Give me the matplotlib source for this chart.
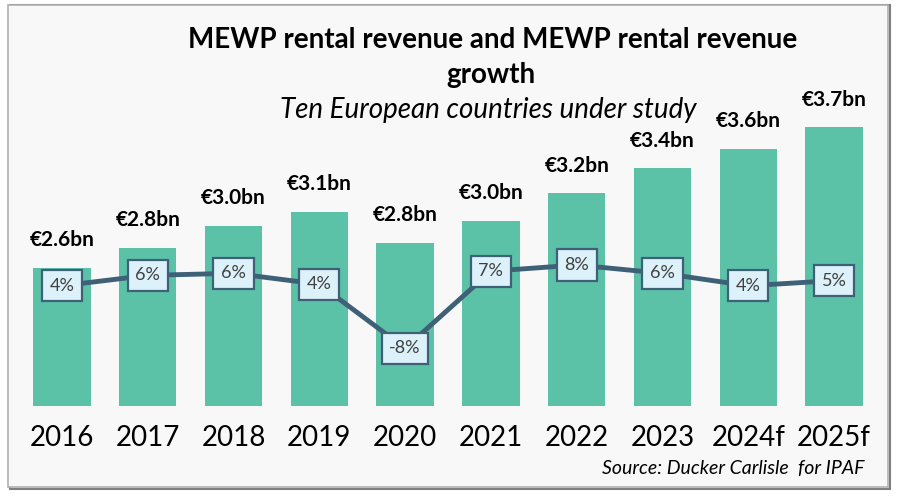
import matplotlib
matplotlib.use('Agg')
import matplotlib.pyplot as plt
from matplotlib.patches import Rectangle

# Dane
years = ['2016', '2017', '2018', '2019', '2020', '2021', '2022', '2023', '2024f', '2025f']
revenue = [2.60, 2.76, 2.94, 3.05, 2.80, 2.98, 3.20, 3.40, 3.56, 3.73]
revenue_labels = ['€2.6bn', '€2.8bn', '€3.0bn', '€3.1bn', '€2.8bn', '€3.0bn', '€3.2bn', '€3.4bn', '€3.6bn', '€3.7bn']
growth = [4.0, 6.0, 6.4, 4.3, -8.0, 6.8, 8.0, 6.4, 4.0, 5.0]

plt.rcParams['font.family'] = ['Lato', 'DejaVu Sans']

fig = plt.figure(figsize=(9, 5.04), dpi=100)
fig.patch.set_facecolor('white')

# Ramka wykresu
fig.patches.append(Rectangle((10 / 900, 15 / 504), 880 / 900, 484 / 504, transform=fig.transFigure,
                             facecolor='none', edgecolor='#7f7f7f', lw=1.5, zorder=-2))
fig.patches.append(Rectangle((8 / 900, 17 / 504), 880 / 900, 482 / 504, transform=fig.transFigure,
                             facecolor='#f8f8f8', edgecolor='#b0b0b0', lw=1.2, zorder=-1))

ax = fig.add_axes([19 / 900, 98 / 504, 858 / 900, 306 / 504])
ax.patch.set_alpha(0)
x = range(len(years))
ax.bar(x, revenue, width=0.67, color='#5bc2a8', zorder=1)
ax.set_ylim(1.49, 3.95)
ax.set_xlim(-0.5, 9.5)
for i, v in enumerate(revenue):
    ax.annotate(revenue_labels[i], (i, v), xytext=(0, 20), textcoords='offset points',
                ha='center', va='center', fontsize=15, fontweight='bold', color='black')
ax.set_xticks(list(x))
ax.set_xticklabels(years, fontsize=20, color='black')
ax.tick_params(axis='x', length=0, pad=14)
ax.set_yticks([])
for s in ax.spines.values():
    s.set_visible(False)

ax2 = ax.twinx()
ax2.plot(x, growth, color='#3f6177', lw=3.5, zorder=3, solid_capstyle='round')
ax2.set_ylim(-19.1, 39.7)
ax2.set_yticks([])
for s in ax2.spines.values():
    s.set_visible(False)
for i, g in enumerate(growth):
    ax2.text(i, g, f'{g:.0f}%', ha='center', va='center', fontsize=13, color='#404040', zorder=4,
             bbox=dict(boxstyle='square,pad=0.42', facecolor='#dcf1fa', edgecolor='#3f6177', lw=1.6))

fig.text(493 / 900, 1 - 40 / 504, 'MEWP rental revenue and MEWP rental revenue', ha='center', va='center',
         fontsize=20, fontweight='bold')
fig.text(491 / 900, 1 - 75 / 504, 'growth', ha='center', va='center', fontsize=20, fontweight='bold')
fig.text(488 / 900, 1 - 110 / 504, 'Ten European countries under study', ha='center', va='center',
         fontsize=20, fontstyle='italic')
fig.text(864 / 900, 1 - 469 / 504, 'Source: Ducker Carlisle  for IPAF', ha='right', va='center',
         fontsize=14, fontstyle='italic')

fig.savefig('out.png', dpi=100)
